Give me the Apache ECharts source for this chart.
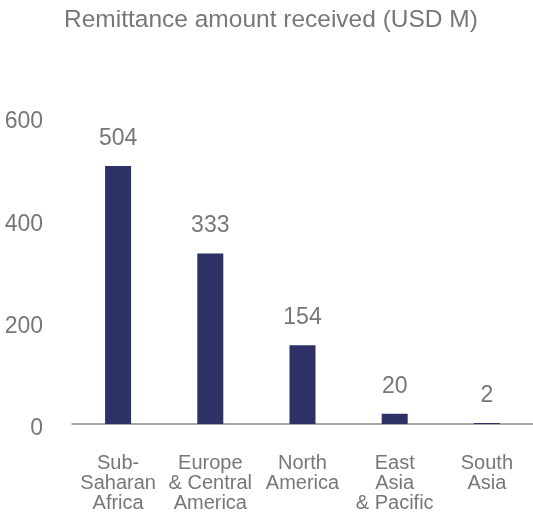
<!DOCTYPE html>
<html>
<head>
<meta charset="utf-8">
<script src="https://cdn.jsdelivr.net/npm/echarts@6/dist/echarts.min.js"></script>
<style>
  html, body { margin: 0; padding: 0; background: #fff; }
  #chart { width: 533px; height: 516px; }
</style>
</head>
<body>
<div id="chart"></div>
<script>
const regions = ['Sub-\nSaharan\nAfrica', 'Europe\n& Central\nAmerica', 'North\nAmerica', 'East\nAsia\n& Pacific', 'South\nAsia'];
const amounts = [504, 333, 154, 20, 2];
const yTicks = [0, 200, 400, 600];

const grey = '#777777';
const font = 'Liberation Sans, Arial, sans-serif';

const chart = echarts.init(document.getElementById('chart'));
chart.setOption({
  animation: false,
  title: {
    text: 'Remittance amount received (USD M)',
    left: 59,
    top: 3,
    textStyle: { color: grey, fontSize: 24.5, fontWeight: 'normal', fontFamily: font }
  },
  grid: { left: 72, right: -4, top: 117, bottom: 92, containLabel: false },
  xAxis: {
    type: 'category',
    data: regions,
    axisLine: { lineStyle: { color: '#8a8a8a', width: 1.5 } },
    axisTick: { show: false },
    axisLabel: {
      color: grey, fontSize: 20, lineHeight: 20, fontFamily: font,
      margin: 29, interval: 0
    }
  },
  yAxis: {
    type: 'value',
    min: yTicks[0],
    max: yTicks[yTicks.length - 1],
    interval: 200,
    splitLine: { show: false },
    axisLine: { show: false },
    axisTick: { show: false },
    axisLabel: {
      align: 'right', margin: 29,
      formatter: '{v|{value}}',
      rich: {
        v: { color: grey, fontSize: 23, fontFamily: font, padding: [10, 0, 0, 0] }
      }
    }
  },
  series: [{
    type: 'bar',
    data: amounts,
    barWidth: 26,
    itemStyle: { color: '#2d3166' },
    label: {
      show: true, position: 'top', distance: 16,
      color: grey, fontSize: 23, fontFamily: font
    }
  }]
});
</script>
</body>
</html>
